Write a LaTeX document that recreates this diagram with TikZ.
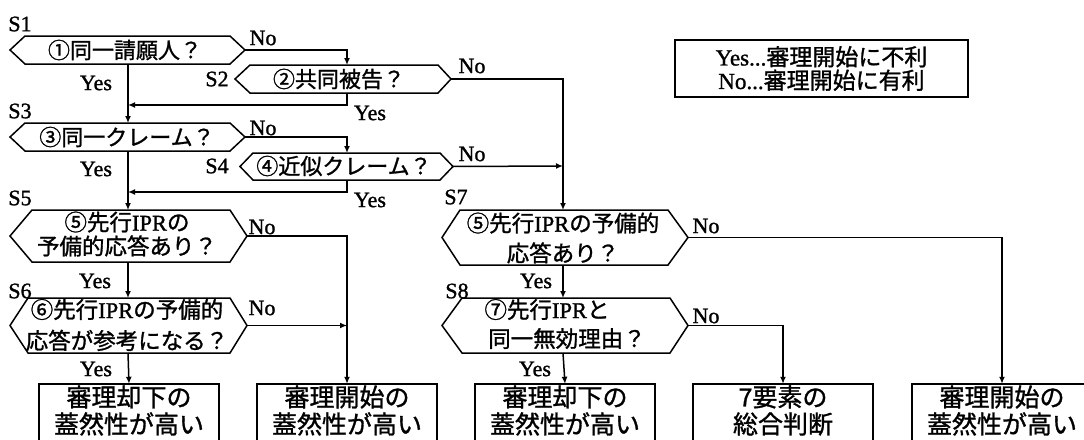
\documentclass[tikz,border=0pt]{standalone}
\usepackage{fontspec}
\setmainfont{Liberation Serif}[FakeBold=1.2]
\newfontfamily\jp{Noto Sans CJK JP}[FakeBold=1.2]
\usetikzlibrary{arrows.meta,calc}
% hexagon: name, left tip x, left corner x, right corner x, right tip x, top y, bottom y, flow x
\newcommand\hexa[8]{%
  \coordinate (#1-w) at (#2,{(#6+#7)/2});
  \coordinate (#1-e) at (#5,{(#6+#7)/2});
  \coordinate (#1-n) at (#8,#6);
  \coordinate (#1-s) at (#8,#7);
  \draw[shp] (#1-w) -- (#3,#6) -- (#4,#6) -- (#1-e) -- (#4,#7) -- (#3,#7) -- cycle;
}
\begin{document}
\begin{tikzpicture}[x=1pt,y=-1pt,
  shp/.style={line width=1.5pt, line join=miter},
  arr/.style={line width=1.5pt,-{Latex[length=7pt,width=6pt]}},
  txt/.style={inner sep=0pt, align=center, font=\fontsize{22}{24}\selectfont},
  lbl/.style={inner sep=0pt, font=\fontsize{22}{22}\selectfont},
  boxt/.style={inner sep=0pt, align=center, minimum width=180pt, minimum height=53pt, font=\jp\fontsize{25}{27}\selectfont}]
\useasboundingbox (0,0) rectangle (1084,439);
\fill[white] (0,0) rectangle (1084,439);
\clip (0,0) rectangle (1084,439);

% hexagons
\hexa{s1}{10}{25}{230}{245}{36}{64}{128}
\hexa{s2}{235}{250}{438}{451}{65}{93}{347}
\hexa{s3}{10}{25}{230}{245}{123}{151}{128}
\hexa{s4}{240}{253}{440}{453}{153}{180}{347}
\hexa{s5}{10}{32}{230}{247}{210}{262}{128}
\hexa{s6}{10}{28}{230}{247}{298}{353}{128}
\hexa{s7}{442}{460}{668}{688}{210}{265}{563}
\hexa{s8}{442}{462}{670}{688}{298}{353}{563}

% hexagon texts
\node[txt] (t1) at (125,50) {\jp ①同一請願人？};
\node[txt] (t2) at (339,79) {\jp ②共同被告？};
\node[txt] (t3) at (127,137) {\jp ③同一クレーム？};
\node[txt] (t4) at (344,166) {\jp ④近似クレーム？};
\node[txt, font=\fontsize{22.5}{24}\selectfont] (t5) at (127,234) {{\jp ⑤先行}IPR{\jp の}\\{\jp 予備的応答あり？}};
\node[txt, font=\fontsize{22.5}{31}\selectfont] (t6) at (127,325) {{\jp ⑥先行}IPR{\jp の予備的}\\{\jp 応答が参考になる？}};
\node[txt, font=\fontsize{22.5}{30}\selectfont] (t7) at (563,238) {{\jp ⑤先行}IPR{\jp の予備的}\\{\jp 応答あり？}};
\node[txt, font=\fontsize{22.5}{29}\selectfont] (t8) at (557,324) {{\jp ⑦先行}IPR{\jp と}\hspace*{20pt}\\\hspace*{20pt}{\jp 同一無効理由？}};

% step labels
\node[lbl] (l1) at (20,24) {S1};
\node[lbl] (l2) at (217,79) {S2};
\node[lbl] (l3) at (20,111) {S3};
\node[lbl] (l4) at (217,166) {S4};
\node[lbl] (l5) at (20,198) {S5};
\node[lbl] (l6) at (20,291) {S6};
\node[lbl] (l7) at (456,197) {S7};
\node[lbl] (l8) at (457,291) {S8};

% yes / no labels
\node[lbl] (n1) at (263,38) {No};
\node[lbl] (y1) at (96,83) {Yes};
\node[lbl] (n2) at (472,66) {No};
\node[lbl] (y2) at (370,113) {Yes};
\node[lbl] (n3) at (263,128) {No};
\node[lbl] (y3) at (96,169) {Yes};
\node[lbl] (n4) at (472,154) {No};
\node[lbl] (y4) at (370,200) {Yes};
\node[lbl] (n5) at (262,227) {No};
\node[lbl] (y5) at (95,281) {Yes};
\node[lbl] (n6) at (262,308) {No};
\node[lbl] (y6) at (96,369) {Yes};
\node[lbl] (n7) at (706,226) {No};
\node[lbl] (y7) at (536,281) {Yes};
\node[lbl] (n8) at (706,316) {No};
\node[lbl] (y8) at (535,369) {Yes};

% legend
\node[draw, line width=1.5pt, inner sep=0pt, minimum width=293pt, minimum height=57pt, align=center,
      font=\fontsize{23}{23.5}\selectfont] (leg) at (821.5,68.5)
  {Yes...{\jp 審理開始に不利}\\No...{\jp 審理開始に有利}};

% result boxes (bottom cut by the picture edge)
\node[boxt] (b1) at (129,410.5) {審理却下の\\蓋然性が高い};
\node[boxt] (b2) at (347,410.5) {審理開始の\\蓋然性が高い};
\node[boxt] (b3) at (565,410.5) {審理却下の\\蓋然性が高い};
\node[boxt] (b4) at (783,410.5) {7要素の\\総合判断};
\node[boxt] (b5) at (1002,410.5) {審理開始の\\蓋然性が高い};
\foreach \b in {b1,b2,b3,b4,b5}
  \draw[shp] (\b.north west) rectangle ($(\b.south east)+(0,20)$);

% junction points
\coordinate (j1) at (128,105);
\coordinate (j2) at (128,192);
\coordinate (j3) at (563,166);
\coordinate (j4) at (347,325.5);

% connectors
\draw[arr] (s1-e) -| (s2-n);
\draw[arr] (s1-s) -- (s3-n);
\draw[arr] (s2-s) |- (j1);
\draw[arr] (s2-e) -| (s7-n);
\draw[arr] (s3-e) -| (s4-n);
\draw[arr] (s3-s) -- (s5-n);
\draw[arr] (s4-s) |- (j2);
\draw[arr] (s4-e) -- (j3);
\draw[arr] (s5-s) -- (s6-n);
\draw[arr] (s5-e) -| (b2.north);
\draw[arr] (s6-e) -- (j4);
\draw[arr] (s6-s) -- (b1.north);
\draw[arr] (s7-s) -- (s8-n);
\draw[arr] (s7-e) -| (b5.north);
\draw[arr] (s8-s) -- (b3.north);
\draw[arr] (s8-e) -| (b4.north);
\end{tikzpicture}
\end{document}
